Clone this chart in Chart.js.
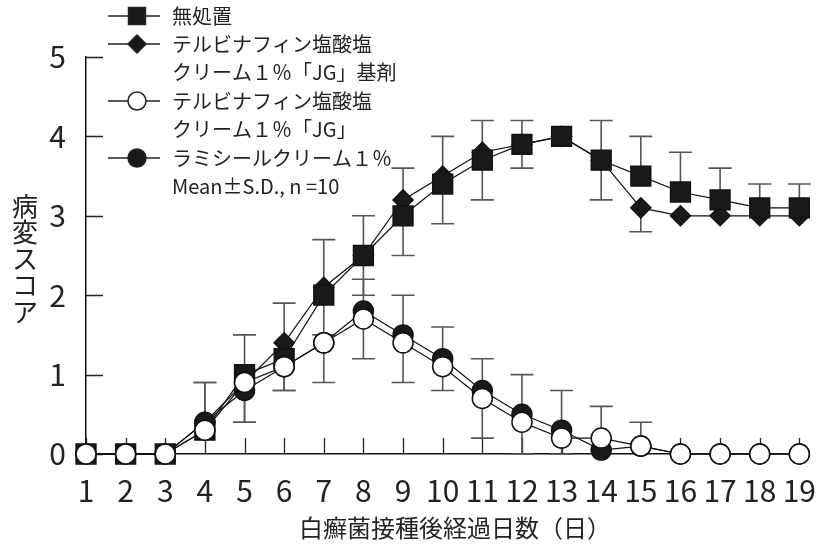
<!DOCTYPE html>
<html lang="ja">
<head>
<meta charset="utf-8">
<title>病変スコア</title>
<script src="https://cdn.jsdelivr.net/npm/chart.js@4"></script>
<style>
  html, body { margin: 0; padding: 0; background: #fff; }
  canvas { display: block; }
</style>
</head>
<body>
<canvas id="scoreChart" width="827" height="546"></canvas>
<script>
const days = ['1','2','3','4','5','6','7','8','9','10','11','12','13','14','15','16','17','18','19'];
const yTicks = [0, 1, 2, 3, 4, 5];

// 無処置 (error bars upward)
const untreated   = [0, 0, 0, 0.3, 1.0, 1.2, 2.0, 2.5, 3.0, 3.4, 3.7, 3.9, 4.0, 3.7, 3.5, 3.3, 3.2, 3.1, 3.1];
const untreatedSD = [0, 0, 0, 0.6, 0.5, 0.7, 0.7, 0.5, 0.6, 0.6, 0.5, 0.3, 0,   0.5, 0.5, 0.5, 0.4, 0.3, 0.3];
// 基剤 (error bars downward)
const vehicle     = [0, 0, 0, 0.4, 0.9, 1.4, 2.1, 2.5, 3.2, 3.5, 3.8, 3.9, 4.0, 3.7, 3.1, 3.0, 3.0, 3.0, 3.0];
const vehicleSD   = [0, 0, 0, 0,   0.5, 0.6, 0.6, 0.5, 0.7, 0.6, 0.6, 0.3, 0,   0.5, 0.3, 0,   0,   0,   0];
// テルビナフィン塩酸塩クリーム1%「JG」 (error bars downward)
const terbJG      = [0, 0, 0, 0.3, 0.9, 1.1, 1.4, 1.7, 1.4, 1.1, 0.7, 0.4, 0.2, 0.2, 0.1, 0, 0, 0, 0];
const terbJGSD    = [0, 0, 0, 0,   0.5, 0.3, 0.5, 0.5, 0.5, 0.3, 0.5, 0.4, 0.2, 0,   0,   0, 0, 0, 0];
// ラミシールクリーム1% (error bars upward)
const lamisil     = [0, 0, 0, 0.4, 0.8, 1.1, 1.4, 1.8, 1.5, 1.2, 0.8, 0.5, 0.3, 0.05, 0.1, 0, 0, 0, 0];
const lamisilSD   = [0, 0, 0, 0.5, 0,   0,   0,   0.4, 0.5, 0.4, 0.4, 0.5, 0.5, 0.55, 0.3, 0, 0, 0, 0];

const FONT = '"Noto Sans CJK JP", "Noto Sans", sans-serif';

const errorBars = {
  id: 'errorBars',
  beforeDatasetsDraw(chart) {
    const { ctx, scales: { x, y }, chartArea } = chart;
    ctx.save();
    // inward axis ticks
    ctx.strokeStyle = '#222';
    ctx.lineWidth = 1.3;
    ctx.beginPath();
    yTicks.forEach(v => {
      const py = Math.round(y.getPixelForValue(v)) + 0.5;
      ctx.moveTo(chartArea.left, py);
      ctx.lineTo(chartArea.left + 17, py);
    });
    days.forEach((d, i) => {
      const px = Math.round(x.getPixelForValue(i)) + 0.5;
      ctx.moveTo(px, chartArea.bottom);
      ctx.lineTo(px, chartArea.bottom - 16);
    });
    ctx.stroke();

    // error bars (mean ± S.D., one side per series)
    ctx.strokeStyle = '#555';
    ctx.lineWidth = 1.6;
    chart.data.datasets.forEach(ds => {
      ds.data.forEach((v, i) => {
        const sd = ds.sd[i];
        if (!sd) return;
        const px = x.getPixelForValue(i);
        const y0 = y.getPixelForValue(v);
        const y1 = y.getPixelForValue(v + ds.dir * sd);
        ctx.beginPath();
        ctx.moveTo(px, y0);
        ctx.lineTo(px, y1);
        ctx.moveTo(px - 11.5, y1);
        ctx.lineTo(px + 11.5, y1);
        ctx.stroke();
      });
    });
    ctx.restore();
  },
  afterDraw(chart) {
    const { ctx } = chart;
    ctx.save();
    ctx.fillStyle = '#222';
    ctx.textBaseline = 'middle';

    // y-axis title, vertical
    ctx.font = '26px ' + FONT;
    ctx.textAlign = 'center';
    const title = ['病', '変', 'ス', 'コ', 'ア'];
    title.forEach((c, i) => ctx.fillText(c, 25, 206 + i * 26.5));

    // x-axis title
    ctx.font = '24px ' + FONT;
    ctx.fillText('白癬菌接種後経過日数（日）', 455, 528);

    // legend
    const rows = [
      { y: 16,  style: 'rect',    fill: '#1a1a1a', lines: ['無処置'] },
      { y: 44,  style: 'rectRot', fill: '#1a1a1a', lines: ['テルビナフィン塩酸塩', 'クリーム１％「JG」基剤'] },
      { y: 101, style: 'circle',  fill: '#fff',    lines: ['テルビナフィン塩酸塩', 'クリーム１％「JG」'] },
      { y: 158, style: 'circle',  fill: '#1a1a1a', lines: ['ラミシールクリーム１％', 'Mean±S.D., n =10'] }
    ];
    ctx.font = '20px ' + FONT;
    ctx.textAlign = 'left';
    rows.forEach(r => {
      ctx.strokeStyle = '#222';
      ctx.lineWidth = 1.3;
      ctx.beginPath();
      ctx.moveTo(108, r.y);
      ctx.lineTo(160, r.y);
      ctx.stroke();
      ctx.fillStyle = r.fill;
      ctx.lineWidth = 1.5;
      Chart.helpers.drawPoint(ctx, { pointStyle: r.style, radius: r.style === 'rect' ? 12 : 9, rotation: 0, borderWidth: 1.5 }, 137, r.y);
      ctx.fillStyle = '#222';
      r.lines.forEach((t, k) => ctx.fillText(t, 172, r.y + k * 28));
    });
    ctx.restore();
  }
};

function series(label, data, sd, dir, style, fill, radius, order) {
  return {
    label: label,
    data: data,
    sd: sd,
    dir: dir,
    order: order,
    clip: false,
    borderColor: '#111',
    borderWidth: 1.2,
    pointStyle: style,
    pointRadius: radius,
    pointBackgroundColor: fill,
    pointBorderColor: '#111',
    pointBorderWidth: 1.5,
    tension: 0
  };
}

const ctx = document.getElementById('scoreChart').getContext('2d');
const scoreChart = new Chart(ctx, {
  type: 'line',
  data: {
    labels: days,
    datasets: [
      series('テルビナフィン塩酸塩クリーム1%「JG」', terbJG, terbJGSD, -1, 'circle', '#fff', 10, 0),
      series('ラミシールクリーム1%', lamisil, lamisilSD, 1, 'circle', '#1a1a1a', 10, 1),
      series('無処置', untreated, untreatedSD, 1, 'rect', '#1a1a1a', 14, 2),
      series('テルビナフィン塩酸塩クリーム1%「JG」基剤', vehicle, vehicleSD, -1, 'rectRot', '#1a1a1a', 10, 3)
    ]
  },
  options: {
    responsive: false,
    animation: false,
    devicePixelRatio: 1,
    layout: { padding: { top: 57, right: 21, left: 0, bottom: 0 } },
    plugins: {
      legend: { display: false },
      tooltip: { enabled: false }
    },
    scales: {
      x: {
        type: 'category',
        offset: false,
        grid: { display: false },
        border: { display: true, color: '#111', width: 1.5 },
        ticks: { color: '#222', font: { family: FONT, size: 30 }, padding: 11, maxRotation: 0, autoSkip: false },
        afterFit: s => { s.height = 92; }
      },
      y: {
        min: 0,
        max: 5,
        grid: { display: false },
        border: { display: true, color: '#111', width: 1.5 },
        ticks: { stepSize: 1, color: '#222', font: { family: FONT, size: 30 }, padding: 12 },
        afterFit: s => { s.width = 86; }
      }
    }
  },
  plugins: [errorBars]
});
</script>
</body>
</html>
